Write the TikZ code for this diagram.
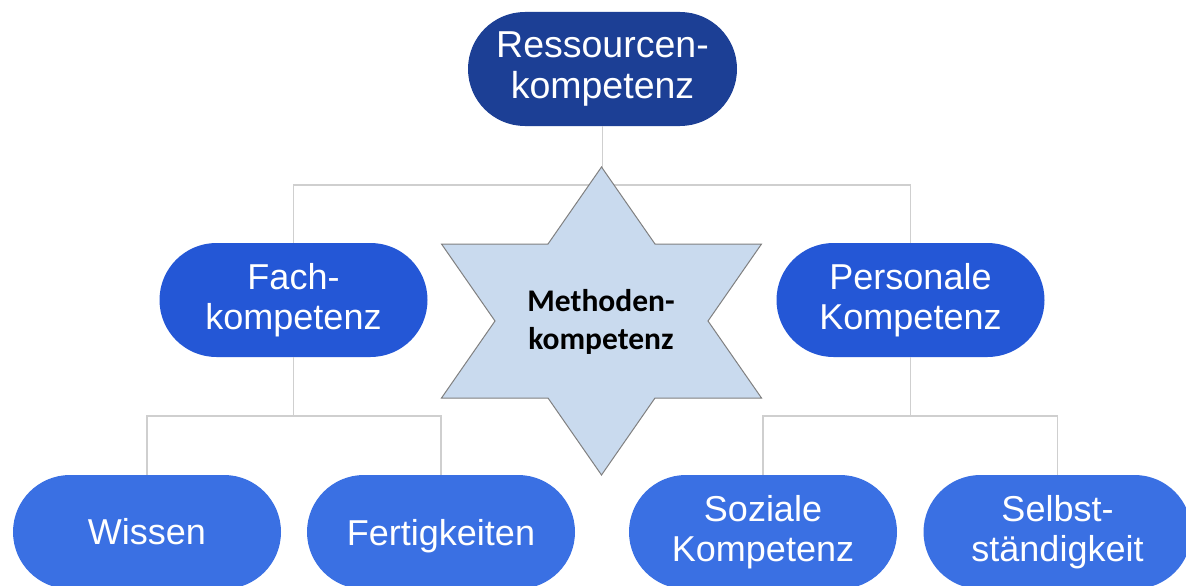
\documentclass[tikz,border=0pt]{standalone}
\usepackage{fontspec}
\setmainfont{Liberation Sans}
\newfontfamily\carlito{Carlito}
\definecolor{navy}{HTML}{1C3F95}
\definecolor{midblue}{HTML}{2457D6}
\definecolor{lowblue}{HTML}{3A70E3}
\definecolor{starfill}{HTML}{C9DAEE}
\definecolor{starline}{HTML}{808080}
\definecolor{conn}{HTML}{CFCFCF}
\tikzset{
  pill/.style={rectangle, rounded corners=57pt, minimum width=268pt, minimum height=114pt,
    text=white, align=center, inner sep=0pt, font=\fontsize{36}{40}\selectfont},
  topbox/.style={pill, fill=navy, minimum width=269pt, font=\fontsize{37.5}{41}\selectfont},
  midbox/.style={pill, fill=midblue},
  lowbox/.style={pill, fill=lowblue},
  connector/.style={draw=conn, line width=1.2pt},
  starshape/.style={fill=starfill, draw=starline, line width=1pt, line join=miter},
  startext/.style={align=center, inner sep=0pt, text=black, font=\carlito\bfseries\fontsize{31.5}{38}\selectfont}
}
\begin{document}
\begin{tikzpicture}[x=1pt, y=-1pt]
\useasboundingbox (0,0) rectangle (1186,586);
\fill[white] (0,0) rectangle (1186,586);

\node[topbox] (res) at (602.5,69) {Ressourcen-\\kompetenz};
\node[midbox] (fach) at (293.5,300) {Fach-\\kompetenz};
\node[midbox] (pers) at (910.5,300) {Personale\\Kompetenz};
\node[lowbox] (wissen) at (147,532) {Wissen};
\node[lowbox, text depth=0pt] (fert) at (441,532) {Fertigkeiten};
\node[lowbox] (soz) at (763,532) {Soziale\\Kompetenz};
\node[lowbox] (selbst) at (1057.5,532) {Selbst-\\ständigkeit};

\coordinate (bus1) at (602.5,185);
\coordinate (bus2) at (293.5,416);
\coordinate (bus3) at (910.5,416);

\draw[connector] (res.south) -- (bus1);
\draw[connector] (bus1) -| (fach.north);
\draw[connector] (bus1) -| (pers.north);
\draw[connector] (fach.south) -- (bus2);
\draw[connector] (bus2) -| (wissen.north);
\draw[connector] (bus2) -| (fert.north);
\draw[connector] (pers.south) -- (bus3);
\draw[connector] (bus3) -| (soz.north);
\draw[connector] (bus3) -| (selbst.north);

\path[starshape] (601.5,167) -- (655,244) -- (761.5,244) -- (708,321) -- (761.5,398)
  -- (655,398) -- (601.5,475) -- (548,398) -- (441.5,398) -- (495,321)
  -- (441.5,244) -- (548,244) -- cycle;
\node[startext] (meth) at (601,322) {Methoden-\\kompetenz};
\end{tikzpicture}
\end{document}
